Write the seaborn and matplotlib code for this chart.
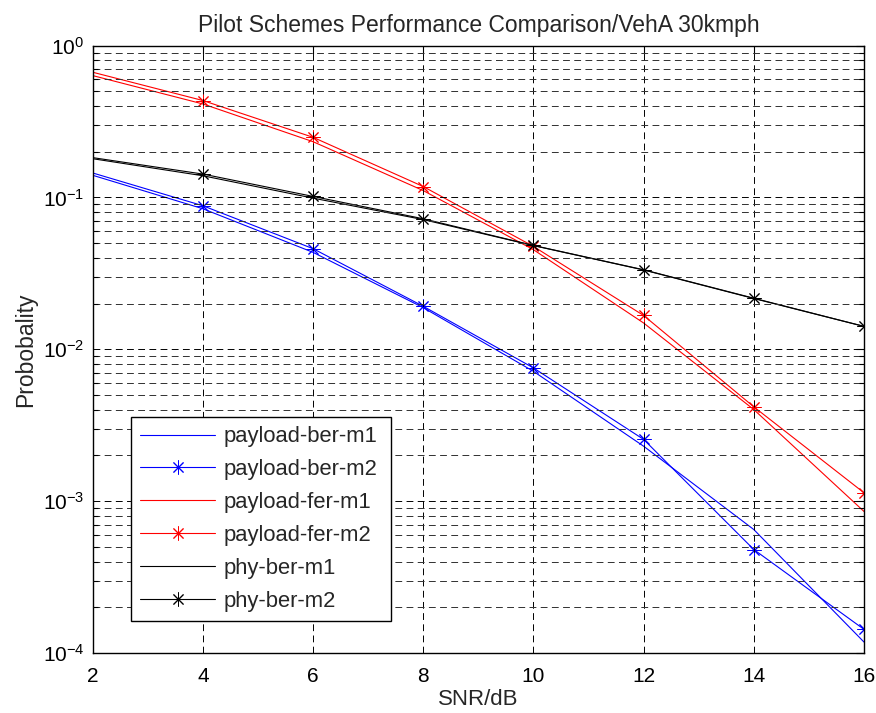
import numpy as np
import pandas as pd
import matplotlib
matplotlib.use("Agg")
import matplotlib.pyplot as plt
import seaborn as sns
from matplotlib.ticker import LogLocator, FixedLocator, NullFormatter

# ---- data ----
snr = [2, 4, 6, 8, 10, 12, 14, 16]
payload_ber_m1 = [0.140, 0.0843, 0.0435, 0.0188, 0.00716, 0.0023, 0.00065, 0.000118]
payload_ber_m2 = [0.145, 0.0882, 0.0460, 0.0192, 0.00754, 0.00255, 0.00048, 0.000143]
payload_fer_m1 = [0.635, 0.413, 0.233, 0.111, 0.0453, 0.0149, 0.00401, 0.000855]
payload_fer_m2 = [0.668, 0.435, 0.249, 0.118, 0.0476, 0.0167, 0.00418, 0.001135]
phy_ber_m1 = [0.180, 0.139, 0.099, 0.0715, 0.0482, 0.0333, 0.0216, 0.01415]
phy_ber_m2 = [0.183, 0.1426, 0.1016, 0.0724, 0.0483, 0.0334, 0.0217, 0.01416]
series_names = ["payload-ber-m1", "payload-ber-m2", "payload-fer-m1",
                "payload-fer-m2", "phy-ber-m1", "phy-ber-m2"]
x_ticks = [2, 4, 6, 8, 10, 12, 14, 16]

sns.set_style("white")
plt.rcParams['font.family'] = ['Liberation Sans', 'DejaVu Sans']
plt.rcParams['mathtext.fontset'] = 'custom'
plt.rcParams['mathtext.rm'] = 'Liberation Sans'
plt.rcParams['mathtext.it'] = 'Liberation Sans'
plt.rcParams['mathtext.bf'] = 'Liberation Sans'

fig = plt.figure(figsize=(8.76, 7.13), dpi=100)
ax = fig.add_axes([0.1058, 0.0842, 0.8805, 0.8518])

vals = [payload_ber_m1, payload_ber_m2, payload_fer_m1, payload_fer_m2, phy_ber_m1, phy_ber_m2]
colors = ["#0000ff", "#0000ff", "#ff0000", "#ff0000", "#000000", "#000000"]
markers = [None, (8, 2, 0), None, (8, 2, 0), None, (8, 2, 0)]

for name, v, c, m in zip(series_names, vals, colors, markers):
    df = pd.DataFrame({"snr": snr, "p": v})
    kw = {}
    if m is not None:
        kw = dict(marker=m, markersize=10, markeredgewidth=0.7,
                  markeredgecolor=c, markerfacecolor=c, markevery=slice(1, None))
    sns.lineplot(data=df, x="snr", y="p", ax=ax, color=c, linewidth=0.8,
                 estimator=None, label=name, **kw)

ax.set_yscale("log")
ax.set_xlim(2, 16)
ax.set_ylim(1e-4, 1)
ax.xaxis.set_major_locator(FixedLocator(x_ticks))
ax.yaxis.set_major_locator(LogLocator(base=10, numticks=10))
ax.yaxis.set_minor_locator(LogLocator(base=10, subs=np.arange(2, 10), numticks=10))
ax.yaxis.set_minor_formatter(NullFormatter())

dash = (0, (7.0, 4.5))
ax.grid(True, which="major", axis="both", color="black", linestyle=dash, linewidth=0.7)
ax.grid(True, which="minor", axis="y", color="#303030", linestyle=dash, linewidth=0.7)
ax.set_axisbelow(False)

for s in ax.spines.values():
    s.set_color("black")
    s.set_linewidth(1.0)
    s.set_visible(True)

ax.tick_params(axis="both", which="both", direction="in", top=True, right=True,
               colors="black", labelsize=15)
ax.tick_params(axis="both", which="major", length=6, width=0.8)
ax.tick_params(axis="y", which="minor", length=3.5, width=0.8, left=True, right=True)
ax.tick_params(axis="x", which="major", pad=10)
ax.tick_params(axis="y", which="major", pad=6)

ax.set_title("Pilot Schemes Performance Comparison/VehA 30kmph", fontsize=16.5, pad=10)
ax.set_xlabel("SNR/dB", fontsize=16, labelpad=2)
ax.set_ylabel("Probobality", fontsize=16.5, labelpad=4)

leg = ax.legend(loc="lower left", bbox_to_anchor=(0.0493, 0.0527, 0.337, 0.341),
                mode="expand", borderaxespad=0,
                fontsize=15.8, frameon=True, fancybox=False, shadow=False,
                handlelength=3.42, handletextpad=0.37, labelspacing=0.54,
                borderpad=0.43, framealpha=1)
leg.get_frame().set_edgecolor("black")
leg.get_frame().set_linewidth(1.0)

fig.savefig("out.png", dpi=100, facecolor="white")
